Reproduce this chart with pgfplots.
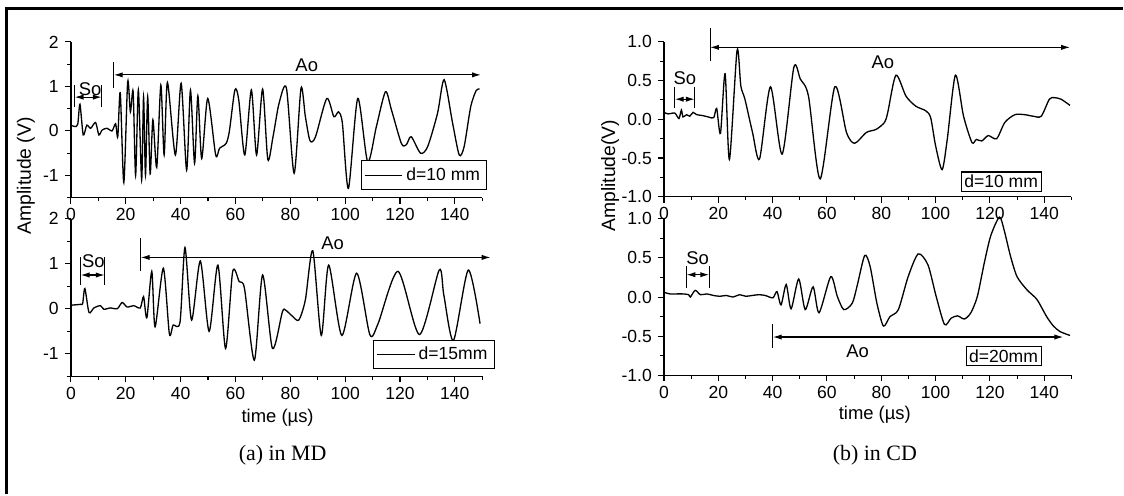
\documentclass[border=0pt]{standalone}
\usepackage{pgfplots}
\pgfplotsset{compat=1.18}
\usetikzlibrary{arrows.meta}
\usepackage{fontspec}
\setmainfont{Liberation Sans}
\newfontfamily\capfont{Liberation Serif}

\pgfplotsset{
  wave/.style={
    scale only axis, width=8.24cm,
    xmin=0, xmax=150,
    axis x line=bottom, axis y line=left,
    axis line style={line width=0.75pt,-},
    xtick={0,20,...,140}, minor xtick={10,30,...,150},
    tick align=outside, major tick length=0.12cm, minor tick length=0.07cm,
    every tick/.style={line width=0.6pt,black},
    tick label style={font=\fontsize{10}{11}\selectfont},
    xticklabel style={yshift=1pt},
    /pgf/number format/assume math mode=true,
    clip=false,
  },
  mdy/.style={ymin=-1.5, ymax=2, ytick={-1,0,1,2}, minor ytick={-1.5,-0.5,0.5,1.5}},
  cdy/.style={ymin=-1, ymax=1, ytick={-1,-0.5,0,0.5,1}, minor ytick={-0.75,-0.25,0.25,0.75},
    yticklabel style={/pgf/number format/.cd, fixed, fixed zerofill, precision=1}},
  sig/.style={black, line width=0.75pt, smooth, tension=0.45, no markers},
  leg/.style={legend style={at={#1}, anchor=south east, draw=black, line width=0.6pt,
    font=\fontsize{10}{12}\selectfont, inner sep=1.8pt},
    legend image code/.code={\draw[line width=0.5pt] (0cm,0cm)--(0.75cm,0cm);}},
}
\tikzset{
  tbar/.style={line width=0.6pt},
  arr/.style={line width=0.6pt, {Latex[length=5pt,width=3pt]}-{Latex[length=5pt,width=3pt]}},
  lab/.style={font=\fontsize{10.5}{12}\selectfont},
  boxlab/.style={draw, line width=0.6pt, anchor=south east, inner sep=1.8pt, font=\fontsize{10}{12}\selectfont},
}

\begin{document}
\begin{tikzpicture}
\begin{scope}[x=0.02cm,y=-0.02cm]
\useasboundingbox (0,0) rectangle (1124,495);
\end{scope}

% (a) top: d=10 mm
\begin{axis}[wave, mdy, at={(1.42cm,-3.96cm)}, anchor=south west, height=3.12cm, leg={(1.012,0.05)}]
\addplot[sig] coordinates {
(0,0.13)(1.4,0.1)(2.5,0.15)(3.3,0.6)(4.5,-0.09)(5.8,0.13)(7.2,0.06)(9,0.19)(10.2,-0.09)(11.4,0.02)(13.2,0.06)(15,0)(16.3,0.16)(17.1,-0.13)(18,0.86)(19.3,-1.16)(20.7,1.1)(21.7,0.43)(22.7,0.88)(23.6,-1.0)(24.6,0.92)(25.8,-1.1)(26.5,0.77)(27.2,-0.99)(28,0.77)(28.9,-0.97)(29.9,0.25)(31.3,-0.82)(32.8,1.03)(34,-0.54)(35.2,1.09)(38.1,-0.54)(40.2,1.07)(42.2,-0.88)(43.6,0.92)(45.1,-0.73)(46.3,0.79)(47.7,-0.62)(49.9,0.73)(52.8,-0.54)(54.2,-0.39)(56.6,-0.28)(57.8,0.0)(59.8,0.92)(61.2,0.7)(63.4,-0.54)(65.8,0.92)(67.7,-0.54)(69.9,0.94)(71.8,-0.64)(73.7,-0.13)(75.9,0.62)(78.6,0.96)(81.4,-0.95)(83.9,0.96)(85.5,0.32)(87.2,-0.22)(89.2,-0.13)(93.3,0.73)(95.9,0.32)(97.6,0.43)(99,0.17)(101.2,-1.29)(104.6,0.73)(108.2,-0.69)(111.4,0.1)(114.7,0.88)(116.9,0.47)(120.5,-0.28)(122.3,-0.31)(124.1,-0.13)(127.5,-0.5)(130.1,-0.35)(133.7,0.4)(136.1,1.15)(139.2,0.17)(141.6,-0.54)(143.4,-0.35)(145.8,0.55)(147.8,0.91)(149,0.94)
};
\addlegendentry{d=10 mm}
\draw[tbar] (axis cs:1.4,0.53)--(axis cs:1.4,1.03);
\draw[tbar] (axis cs:11.2,0.53)--(axis cs:11.2,1.03);
\draw[arr] (axis cs:1.4,0.76)--(axis cs:11.2,0.76);
\node[lab] at (axis cs:7,0.95) {So};
\draw[tbar] (axis cs:15.7,0.96)--(axis cs:15.7,1.56);
\draw[arr] (axis cs:15.7,1.26)--(axis cs:149.5,1.26);
\node[lab] at (axis cs:86,1.48) {Ao};
\end{axis}

% (a) bottom: d=15mm
\begin{axis}[wave, mdy, at={(1.42cm,-7.54cm)}, anchor=south west, height=3.16cm, leg={(1.03,0.044)}]
\addplot[sig] coordinates {
(0,0.08)(3.6,0.1)(4.3,0.12)(5.1,0.45)(6.6,-0.08)(8.4,0.02)(10.8,0.07)(12,-0.01)(14.5,0.02)(16.9,0)(18.7,0.14)(20.5,0.04)(22.9,0.07)(25.3,0.02)(26.5,0.27)(27.7,-0.2)(29.5,0.83)(30.7,-0.4)(33.7,0.9)(35.9,-0.55)(37.3,-0.36)(39.8,-0.29)(41.6,1.36)(44,-0.25)(47.2,1.06)(50.4,-0.5)(53.6,0.97)(56.4,-0.88)(59,0.83)(61.4,0.6)(63.3,0.45)(66.9,-1.14)(69.9,0.75)(73.5,-0.88)(77.1,-0.07)(78.3,-0.03)(80.7,-0.16)(83.1,-0.25)(85.5,0.2)(88.2,1.29)(91.3,-0.59)(94,0.97)(98.8,-0.59)(104.2,0.79)(109,-0.57)(112,-0.33)(119.3,0.83)(127.1,-0.57)(134.3,0.86)(136,0.3)(139.5,-0.7)(144.9,0.86)(149.2,-0.33)
};
\addlegendentry{d=15mm}
\draw[tbar] (axis cs:3.6,0.53)--(axis cs:3.6,1.16);
\draw[tbar] (axis cs:12.3,0.53)--(axis cs:12.3,1.16);
\draw[arr] (axis cs:3.6,0.75)--(axis cs:12.3,0.75);
\node[lab] at (axis cs:8.2,1.05) {So};
\draw[tbar] (axis cs:25.5,0.84)--(axis cs:25.5,1.57);
\draw[arr] (axis cs:25.5,1.14)--(axis cs:153,1.14);
\node[lab] at (axis cs:95.4,1.46) {Ao};
\end{axis}

% (b) top: d=10 mm
\begin{axis}[wave, cdy, width=8.16cm, at={(13.30cm,-3.94cm)}, anchor=south west, height=3.10cm]
\addplot[sig] coordinates {
(0,0.09)(1.5,0.07)(4,0.08)(5.5,0.01)(6.4,0.12)(7,0.03)(8.3,0.06)(9.5,0.04)(10.7,0.09)(12,0.06)(14,0.05)(16.4,0.03)(18.3,0.02)(19.4,0.14)(20.8,-0.18)(22.5,0.59)(24.1,-0.52)(26.9,0.89)(28.3,0.43)(29.8,0.26)(32.6,-0.17)(35.2,-0.51)(39.2,0.42)(43.5,-0.45)(47.8,0.67)(50.2,0.52)(53.2,0.3)(57.5,-0.77)(62.9,0.42)(67.2,-0.17)(70.2,-0.31)(74.5,-0.17)(78.1,-0.13)(81.2,-0.04)(82.4,0.09)(85.4,0.57)(89.1,0.3)(92.7,0.17)(96.4,0.11)(98.2,0.02)(100,-0.34)(102.4,-0.65)(104.3,-0.26)(107.3,0.57)(110.3,0.04)(113.4,-0.3)(115,-0.26)(117,-0.28)(119.4,-0.21)(122.5,-0.25)(125.5,-0.04)(129.2,0.06)(132.8,0.06)(136,0.04)(138.9,0.04)(141.9,0.26)(143.7,0.28)(146.2,0.26)(149.5,0.18)
};
\node[boxlab] at (rel axis cs:0.927,0.032) {d=10 mm};
\draw[tbar] (axis cs:4,0.14)--(axis cs:4,0.42);
\draw[tbar] (axis cs:11.3,0.14)--(axis cs:11.3,0.42);
\draw[arr] (axis cs:4,0.26)--(axis cs:11.3,0.26);
\node[lab] at (axis cs:7.7,0.53) {So};
\draw[tbar] (axis cs:17,0.75)--(axis cs:17,1.18);
\draw[arr] (axis cs:17,0.93)--(axis cs:149.5,0.93);
\node[lab] at (axis cs:80.6,0.74) {Ao};
\end{axis}

% (b) bottom: d=20mm
\begin{axis}[wave, cdy, width=8.16cm, at={(13.30cm,-7.52cm)}, anchor=south west, height=3.14cm]
\addplot[sig] coordinates {
(0,0.06)(2.2,0.04)(4.6,0.04)(7,0.04)(9.1,0.03)(9.7,0)(11.5,0.085)(13.4,0.03)(15.8,0.04)(18.2,0.02)(20.6,0.01)(23,0.02)(25.4,0)(27.8,0.03)(30.1,0.01)(32.5,0.02)(34.9,0.03)(37.3,0.02)(40.1,-0.01)(41.6,0.07)(43.1,-0.1)(45,0.16)(46.8,-0.15)(49.6,0.23)(52,-0.16)(54.9,0.13)(57.1,-0.2)(61.4,0.26)(63.8,0.01)(66.2,-0.16)(69.3,-0.08)(71.1,0.14)(73.9,0.53)(75.9,0.39)(78.4,-0.08)(80.8,-0.37)(83.2,-0.25)(86.3,-0.16)(89.9,0.26)(93.6,0.55)(97.2,0.41)(100.2,0.01)(103.3,-0.35)(105.7,-0.27)(108.1,-0.24)(110.6,-0.28)(113,-0.2)(115.4,0.01)(117.9,0.43)(120.3,0.78)(123.5,1.02)(125.2,0.86)(127.6,0.52)(130,0.26)(133.7,0.09)(137.3,-0.03)(140.9,-0.25)(143.4,-0.37)(145.8,-0.44)(149.5,-0.49)
};
\node[boxlab] at (rel axis cs:0.927,0.057) {d=20mm};
\draw[tbar] (axis cs:8.3,0.12)--(axis cs:8.3,0.39);
\draw[tbar] (axis cs:16.6,0.12)--(axis cs:16.6,0.39);
\draw[arr] (axis cs:8.3,0.285)--(axis cs:16.6,0.285);
\node[lab] at (axis cs:12.4,0.49) {So};
\draw[tbar] (axis cs:40.1,-0.35)--(axis cs:40.1,-0.65);
\draw[arr] (axis cs:40.1,-0.51)--(axis cs:147,-0.51);
\node[lab] at (axis cs:71.3,-0.69) {Ao};
\end{axis}

\begin{scope}[x=0.02cm,y=-0.02cm]
\draw[line width=1.7pt] (7,495)--(7,9)--(1124,9);
\node[rotate=90, font=\fontsize{11}{12}\selectfont] at (26,176) {Amplitude (V)};
\node[rotate=90, font=\fontsize{11}{12}\selectfont] at (611,176) {Amplitude(V)};
\node[font=\fontsize{10.5}{12}\selectfont] at (278,418) {time (\textmu s)};
\node[font=\fontsize{10.5}{12}\selectfont] at (876,415) {time (\textmu s)};
\node[font=\capfont\fontsize{12.5}{15}\selectfont] at (283,456) {(a) in MD};
\node[font=\capfont\fontsize{12.5}{15}\selectfont] at (876,456) {(b) in CD};
\end{scope}
\end{tikzpicture}
\end{document}
